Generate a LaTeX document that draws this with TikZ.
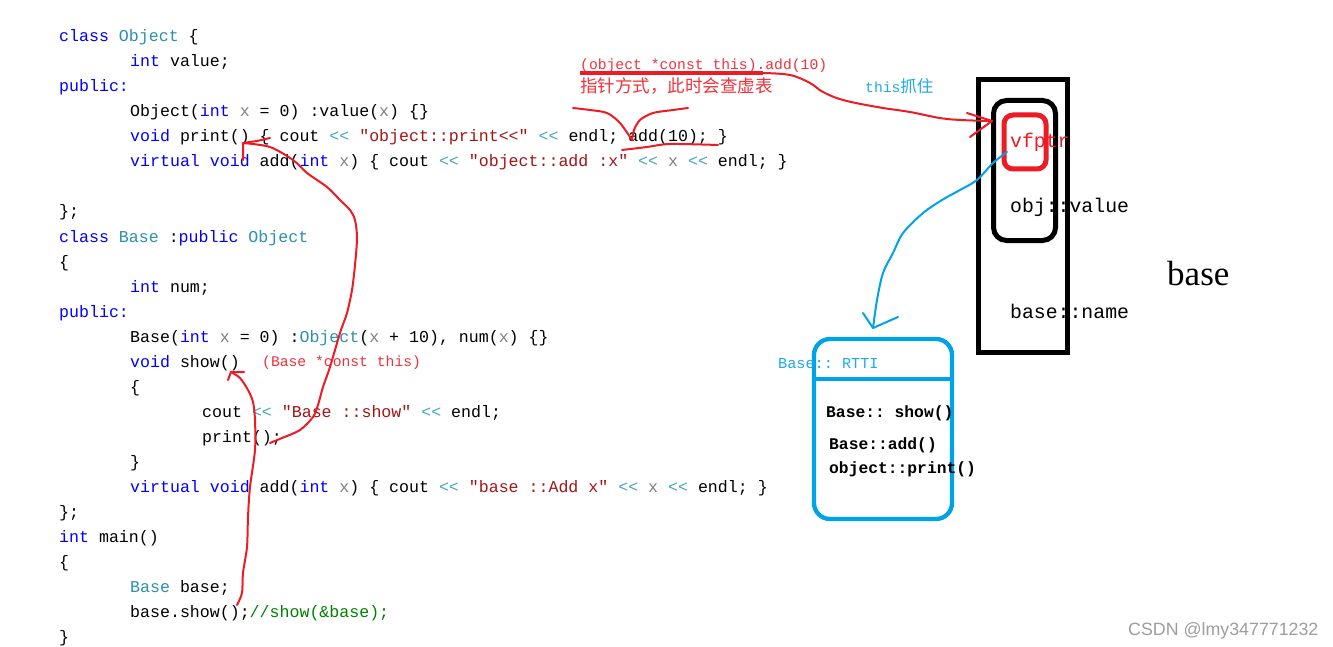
\documentclass[tikz,border=0pt]{standalone}
\usepackage{fontspec}
\setmonofont{Liberation Mono}
\newfontfamily\cjkfont{Noto Sans CJK SC}
\newfontfamily\wmfont{Liberation Sans}
\newfontfamily\bigserif{Liberation Serif}
\definecolor{ckwc}{RGB}{0,0,255}
\definecolor{ctyc}{RGB}{43,145,175}
\definecolor{cstrc}{RGB}{163,21,21}
\definecolor{copc}{RGB}{70,165,190}
\definecolor{cparc}{RGB}{128,128,128}
\definecolor{ccmc}{RGB}{0,128,0}
\definecolor{handred}{RGB}{237,28,36}
\definecolor{annred}{RGB}{240,50,60}
\definecolor{paintblue}{RGB}{0,162,232}
\definecolor{txtblue}{RGB}{30,170,235}
\newcommand{\ckw}[1]{\textcolor{ckwc}{#1}}
\newcommand{\cty}[1]{\textcolor{ctyc}{#1}}
\newcommand{\cstr}[1]{\textcolor{cstrc}{#1}}
\newcommand{\cop}[1]{\textcolor{copc}{#1}}
\newcommand{\cpar}[1]{\textcolor{cparc}{#1}}
\newcommand{\ccm}[1]{\textcolor{ccmc}{#1}}
\newcommand{\codesz}{\ttfamily\fontsize{16.6}{18}\selectfont}
\newcommand{\annsz}{\ttfamily\fontsize{14.7}{16}\selectfont}
\begin{document}
\begin{tikzpicture}[x=1pt,y=-1pt,
  code/.style={inner sep=0pt, anchor=base west, font=\codesz, text=black},
  annot/.style={inner sep=0pt, anchor=base west, font=\annsz, text=annred},
  label20/.style={inner sep=0pt, anchor=base west, font=\ttfamily\fontsize{19.8}{22}\selectfont},
  vtab/.style={inner sep=0pt, anchor=base west, font=\ttfamily\bfseries\fontsize{16.3}{18}\selectfont, text=black},
  hand/.style={draw=handred, line width=2pt, line cap=round, line join=round},
  bluehand/.style={draw=paintblue, line width=2pt, line cap=round, line join=round},
  thickbox/.style={line width=5pt},
  ]
\useasboundingbox (0,0) rectangle (1333,647);
\fill[white] (0,0) rectangle (1333,647);

% ---------- code ----------
\node[code] (l0)  at (59,42)  {\ckw{class} \cty{Object} \{};
\node[code] (l1)  at (130,67) {\ckw{int} value;};
\node[code] (l2)  at (59,92)  {\ckw{public:}};
\node[code] (l3)  at (130,117) {Object(\ckw{int} \cpar{x} = 0) :value(\cpar{x}) \{\}};
\node[code] (l4)  at (130,142) {\ckw{void} print() \{ cout \cop{<<} \cstr{"object::print<<"} \cop{<<} endl; add(10); \}};
\node[code] (l5)  at (130,167) {\ckw{virtual} \ckw{void} add(\ckw{int} \cpar{x}) \{ cout \cop{<<} \cstr{"object::add :x"} \cop{<<} \cpar{x} \cop{<<} endl; \}};
\node[code] (l7)  at (59,217) {\};};
\node[code] (l8)  at (59,242) {\ckw{class} \cty{Base} :\ckw{public} \cty{Object}};
\node[code] (l9)  at (59,267) {\{};
\node[code] (l10) at (130,292) {\ckw{int} num;};
\node[code] (l11) at (59,317) {\ckw{public:}};
\node[code] (l12) at (130,342) {Base(\ckw{int} \cpar{x} = 0) :\cty{Object}(\cpar{x} + 10), num(\cpar{x}) \{\}};
\node[code] (l13) at (130,367) {\ckw{void} show()};
\node[annot] (a13) at (262,366) {(Base *const this)};
\node[code] (l14) at (130,392) {\{};
\node[code] (l15) at (202,417) {cout \cop{<<} \cstr{"Base ::show"} \cop{<<} endl;};
\node[code] (l16) at (202,442) {print();};
\node[code] (l17) at (130,467) {\}};
\node[code] (l18) at (130,492) {\ckw{virtual} \ckw{void} add(\ckw{int} \cpar{x}) \{ cout \cop{<<} \cstr{"base ::Add x"} \cop{<<} \cpar{x} \cop{<<} endl; \}};
\node[code] (l19) at (59,517) {\};};
\node[code] (l20) at (59,542) {\ckw{int} main()};
\node[code] (l21) at (59,567) {\{};
\node[code] (l22) at (130,592) {\cty{Base} base;};
\node[code] (l23) at (130,617) {base.show();\ccm{//show(\&base);}};
\node[code] (l24) at (59,642) {\}};

% ---------- annotations ----------
\node[annot] (ann1) at (580,70) {(object *const this).add(10)};
\node[inner sep=0pt, anchor=base west, font=\cjkfont\fontsize{17.5}{19}\selectfont, text=annred] (ann2) at (580,93) {指针方式，此时会查虚表};
\node[inner sep=0pt, anchor=base west, text=txtblue] (grab) at (865,93) {{\annsz this}{\cjkfont\fontsize{16.5}{18}\selectfont 抓住}};

% ---------- object layout ----------
\draw[thickbox] (978,80) rectangle (1067,352);
\draw[thickbox, rounded corners=13pt] (993.5,100.5) rectangle (1055.5,240.5);
\draw[thickbox, draw=handred, rounded corners=9pt] (1004,115) rectangle (1046,169);
\node[label20, text=handred] (vfptr) at (1010,148) {vfptr};
\node[label20] (objval) at (1010,212) {obj::value};
\node[label20] (bname) at (1010,318) {base::name};
\node[inner sep=0pt, anchor=base west, font=\bigserif\fontsize{35}{38}\selectfont] (basebig) at (1167,285) {base};

% ---------- vtable ----------
\draw[paintblue, line width=4.3pt, rounded corners=16pt] (814,339) rectangle (952,519);
\draw[paintblue, line width=4.3pt] (814,379) -- (954,379);
\node[inner sep=0pt, anchor=base west, font=\ttfamily\fontsize{15.2}{17}\selectfont, text=txtblue] (rtti) at (778,368) {Base:: RTTI};
\node[vtab] (v1) at (826,417) {Base:: show()};
\node[vtab] (v2) at (829,449) {Base::add()};
\node[vtab] (v3) at (829,473) {object::print()};

% ---------- watermark ----------
\node[inner sep=0pt, anchor=base west, font=\wmfont\fontsize{17.8}{19}\selectfont, text=black!38] (wm) at (1128,635) {CSDN @lmy347771232};

% ---------- hand-drawn marks ----------
\coordinate (ulS) at (580,73);
\coordinate (ulE) at (763,73);
\draw[handred, line width=4pt] (ulS) -- (ulE);
% arrow to vfptr
\coordinate (tipV) at (992,121);
\draw[hand] plot[smooth, tension=0.6] coordinates {(ulE) (790,75) (810,83) (823,92) (843,100) (877,107) (910,112) (947,119) (tipV)};
\draw[hand] (967,113) -- (tipV) -- (970,137);
% check mark over add(10)
\draw[hand] plot[smooth, tension=0.5] coordinates {(573,108) (590,110) (607,113) (620,123) (632,140)};
\draw[hand] plot[smooth, tension=0.5] coordinates {(632,140) (634,130) (640,120) (653,113) (673,110) (688,108)};
\draw[hand] plot[smooth, tension=0.5] coordinates {(622,150) (647,147) (670,144) (718,145)};
% print() call -> print() definition
\coordinate (pCall) at (270,443);
\coordinate (pDef) at (243,143);
\draw[hand] plot[smooth, tension=0.5] coordinates {(pCall) (282,438) (300,430) (313,417) (318,405) (323,387) (330,367) (340,333) (347,313) (352,290) (355,265) (357,238) (355,220) (350,210) (340,200) (327,187) (307,173) (293,160) (270,147) (pDef)};
\draw[hand] (270,138) -- (257,141) -- (pDef) -- (243,160);
% base.show() -> show() definition
\coordinate (sCall) at (237,605);
\coordinate (sDef) at (231,372);
\draw[hand] plot[smooth, tension=0.5] coordinates {(sCall) (242,593) (243,573) (247,547) (248,517) (250,487) (255,450) (255,420) (253,402) (248,390) (240,378) (sDef)};
\draw[hand] (228,380) -- (sDef) -- (244,372);
% vfptr -> RTTI (blue)
\coordinate (vS) at (1007,152);
\coordinate (vT) at (873,328);
\draw[bluehand] plot[smooth, tension=0.5] coordinates {(vS) (993,163) (977,180) (960,190) (942,200) (923,213) (903,233) (893,253) (883,273) (877,300) (vT)};
\draw[bluehand] (863,313) -- (vT) -- (898,317);
\end{tikzpicture}
\end{document}
